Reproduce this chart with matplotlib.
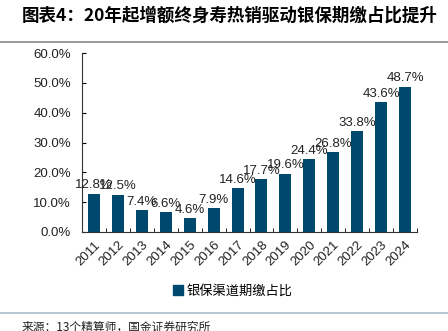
import matplotlib
matplotlib.use("Agg")
import matplotlib.pyplot as plt
import numpy as np

plt.rcParams['font.family'] = ['Liberation Sans', 'Noto Sans CJK SC', 'DejaVu Sans']

years = ["2011", "2012", "2013", "2014", "2015", "2016", "2017", "2018",
         "2019", "2020", "2021", "2022", "2023", "2024"]
values = [12.8, 12.5, 7.4, 6.6, 4.6, 7.9, 14.6, 17.7, 19.6, 24.4, 26.8, 33.8, 43.6, 48.7]
yticks = [0, 10, 20, 30, 40, 50, 60]
series_name = "银保渠道期缴占比"
title = "图表4：20年起增额终身寿热销驱动银保期缴占比提升"
source = "来源：13个精算师，国金证券研究所"

W, H = 448, 331
fig = plt.figure(figsize=(W / 100, H / 100), dpi=100)
ax = fig.add_axes([82 / W, 1 - 232 / H, (417 - 82) / W, (232 - 53) / H])

color = "#00486E"
x = np.arange(len(years))
ax.bar(x, values, width=0.5, color=color, zorder=2)
for xi, v in zip(x, values):
    ax.text(xi, v + 0.8, f"{v:.1f}%", ha="center", va="bottom", fontsize=9.5, color="#222222")

ax.set_xlim(-0.5, len(years) - 0.5)
ax.set_ylim(0, 60)
ax.set_yticks(yticks)
ax.set_yticklabels([f"{t:.1f}%" for t in yticks], fontsize=9.5, color="#222222")
ax.set_xticks(x)
ax.set_xticklabels(years, rotation=45, ha="right", rotation_mode="anchor", fontsize=9.5,
                   color="#222222")
ax.tick_params(axis="x", length=0, pad=5)
ax.set_xticks(np.arange(-0.5, len(years), 1), minor=True)
ax.tick_params(axis="x", which="minor", length=3, direction="in")
ax.tick_params(axis="y", direction="in", length=3, pad=8)
for s in ["top", "right"]:
    ax.spines[s].set_visible(False)
ax.spines["left"].set_color("#333333")
ax.spines["bottom"].set_color("#333333")

leg = fig.legend([plt.Rectangle((0, 0), 1, 1, color=color)], [series_name],
                 loc="center", bbox_to_anchor=(233 / W, 1 - 291 / H), frameon=False,
                 handlelength=0.7, handleheight=0.7, handletextpad=0.3,
                 prop={'family': ['Noto Sans CJK SC'], 'size': 9.5})

fig.text(22 / W, 1 - 16 / H, title, fontsize=12.6, fontweight="bold", style="italic",
         va="center", ha="left", family=['Noto Sans CJK SC', 'DejaVu Sans'])
fig.add_artist(plt.Line2D([0, 1], [1 - 42 / H, 1 - 42 / H], color="#888888", lw=1.2))
fig.add_artist(plt.Line2D([0, 1], [1 - 313 / H, 1 - 313 / H], color="#A9BCCB", lw=1.2))
fig.text(22 / W, 1 - 327 / H, source, fontsize=8.5, va="center", ha="left",
         family=['Noto Sans CJK SC', 'DejaVu Sans'], color="#222222")

fig.savefig("out.png", dpi=100)
